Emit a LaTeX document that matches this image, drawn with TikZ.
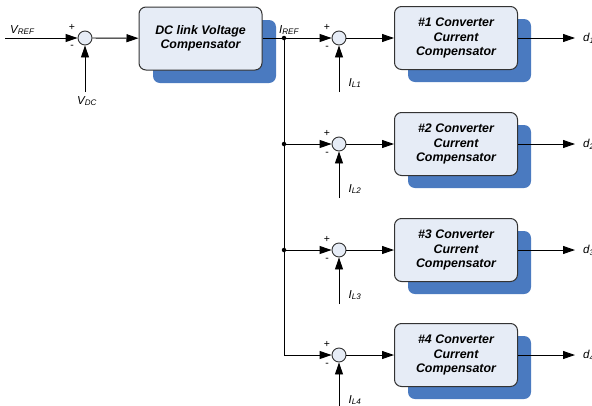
\documentclass[tikz,border=0pt]{standalone}
\usepackage{fontspec}
\setmainfont{Liberation Sans}
\usetikzlibrary{arrows.meta}
\definecolor{blkfill}{HTML}{E6ECF6}
\definecolor{shadowc}{HTML}{4A7AC0}
\definecolor{edgec}{HTML}{333333}
\begin{document}
\begin{tikzpicture}[x=1pt,y=-1pt,
  blk/.style={draw=edgec,line width=1pt,fill=blkfill,rounded corners=7pt,minimum width=123pt,minimum height=63pt,align=center,font=\fontsize{12.4}{14.5}\selectfont\bfseries\itshape},
  shad/.style={fill=shadowc,rounded corners=7pt},
  sumc/.style={circle,draw=edgec,line width=0.9pt,fill=blkfill,minimum size=14pt,inner sep=0pt},
  arr/.style={-{Triangle[length=12pt,width=8pt]},line width=0.9pt},
  ln/.style={line width=0.9pt},
  lab/.style={font=\fontsize{11.5}{13}\selectfont\itshape,inner sep=0pt},
  sgn/.style={font=\fontsize{10.5}{11}\selectfont,inner sep=0pt},
  dot/.style={circle,fill=black,minimum size=4.5pt,inner sep=0pt}]
\useasboundingbox (0,0) rectangle (592,405);
% first row
\coordinate (vin) at (5,38);
\node[lab,anchor=south west] (vref) at (10,35) {V\textsubscript{REF}};
\node[sumc] (s0) at (85,38) {};
\node[sgn] (p0) at (72,27) {+};
\node[sgn] (m0) at (72,47) {-};
\coordinate (vdcs) at (85,92);
\node[lab] (vdc) at (87,101) {V\textsubscript{DC}};
\fill[shad] (153,20) rectangle (276,83);
\node[blk] (dc) at (200.5,38.5) {DC link Voltage\\Compensator};
\draw[arr] (vin) -- (s0);
\draw[arr] (vdcs) -- (s0);
\draw[arr] (s0) -- (dc);
\node[dot] (j1) at (284,38) {};
\node[lab,anchor=south west] (iref) at (279,35) {I\textsubscript{REF}};
\draw[ln] (dc.east |- j1) -- (j1);
\foreach \i/\y in {1/38,2/144,3/250,4/355}{
  \node[sumc] (s\i) at (339,\y) {};
  \node[sgn] (p\i) at (327,\y-11) {+};
  \node[sgn] (m\i) at (327,\y+10) {-};
  \coordinate (il\i) at (339,\y+54);
  \node[lab] (ilab\i) at (355,\y+45) {I\textsubscript{L\i}};
  \fill[shad] (408,\y-19) rectangle (531,\y+44);
  \node[blk] (c\i) at (456,\y) {\#\i{} Converter\\Current\\Compensator};
  \coordinate (o\i) at (575,\y);
  \node[lab,anchor=west] (d\i) at (583,\y) {d\textsubscript{\i}};
  \draw[arr] (il\i) -- (s\i);
  \draw[arr] (s\i) -- (c\i);
  \draw[arr] (c\i) -- (o\i);
}
\node[dot] (j2) at (284,144) {};
\node[dot] (j3) at (284,250) {};
\coordinate (j4) at (284,355);
\draw[arr] (j1) -- (s1);
\draw[arr] (j2) -- (s2);
\draw[arr] (j3) -- (s3);
\draw[arr] (j4) -- (s4);
\draw[ln] (j1) -- (j4);
\draw[ln] (j1) -- (296,38);
\end{tikzpicture}
\end{document}
